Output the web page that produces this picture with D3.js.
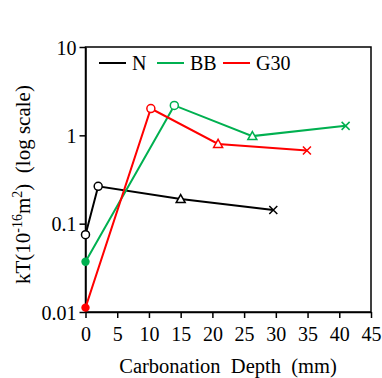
<!DOCTYPE html>
<html><head><meta charset="utf-8">
<script src="https://cdn.jsdelivr.net/npm/d3@7"></script>
<style>body{margin:0;background:#fff}svg{display:block}</style>
</head><body>
<script>
const seriesNames = ["N", "BB", "G30"];
const seriesColors = ["#000000", "#00b050", "#ff0000"];
const nX = [0, 2, 15, 29.6];
const nY = [0.075, 0.265, 0.19, 0.143];
const bbX = [0, 14, 26.3, 41];
const bbY = [0.037, 2.18, 0.98, 1.28];
const g30X = [0, 10.3, 20.9, 34.9];
const g30Y = [0.0112, 2.01, 0.80, 0.675];
const markerTypes = [["circle","circle","triangle","cross"],["circleFilled","circle","triangle","cross"],["circleFilled","circle","triangle","cross"]];
const xTicks = [0,5,10,15,20,25,30,35,40,45];
const yTicks = [0.01,0.1,1,10];
const yTickLabels = ["0.01","0.1","1","10"];

const FONT='Liberation Serif';
const W=382,H=378;
const m={l:85.5,r:371,t:47,b:312};
const svg=d3.select("body").append("svg").attr("width",W).attr("height",H);
const x=d3.scaleLinear().domain([0,45]).range([m.l,m.r]);
const y=d3.scaleLog().domain([0.01,10]).range([m.b,m.t]);

svg.append("rect").attr("x",m.l).attr("y",m.t).attr("width",m.r-m.l).attr("height",m.b-m.t)
  .attr("fill","none").attr("stroke","#000").attr("stroke-width",1.5);

const xAxis=svg.append("g").attr("transform",`translate(0,${m.b})`)
  .call(d3.axisBottom(x).tickValues(xTicks).tickSize(6).tickSizeOuter(0).tickFormat(d3.format("d")));
const yAxis=svg.append("g").attr("transform",`translate(${m.l},0)`)
  .call(d3.axisLeft(y).tickValues(yTicks).tickSize(6).tickSizeOuter(0).tickFormat((d,i)=>yTickLabels[i]));
[xAxis,yAxis].forEach(a=>{
  a.attr("font-family",FONT).attr("font-size",20);
  a.select(".domain").attr("stroke-width",1.5);
  a.selectAll(".tick line").attr("stroke-width",1.5);
  a.selectAll("text").attr("fill","#000");
});
xAxis.selectAll("text").attr("y",0).attr("dy",null).attr("transform","translate(0,29)");
yAxis.selectAll("text").attr("x",-9).attr("dy","0.35em");

svg.append("text").attr("x",228).attr("y",373).attr("text-anchor","middle")
  .attr("font-family",FONT).attr("font-size",20.5).style("white-space","pre").text("Carbonation  Depth  (mm)");
const yt=svg.append("text").attr("transform",`translate(30,284) rotate(-90)`)
  .attr("font-family",FONT).attr("text-anchor","start").attr("font-size",21).style("white-space","pre");
yt.append("tspan").text("kT(10");
yt.append("tspan").attr("font-size",14).attr("dy",-8).text("-16");
yt.append("tspan").attr("dy",8).text("m");
yt.append("tspan").attr("font-size",14).attr("dy",-8).text("2");
yt.append("tspan").attr("dy",8).text(")  (log scale)");

const series=[[nX,nY],[bbX,bbY],[g30X,g30Y]];
const line=d3.line().x(d=>x(d[0])).y(d=>y(d[1]));
series.forEach((s,i)=>{
  const pts=s[0].map((v,j)=>[v,s[1][j]]);
  const c=seriesColors[i];
  svg.append("path").datum(pts).attr("d",line).attr("fill","none").attr("stroke",c).attr("stroke-width",2);
  pts.forEach((p,j)=>{
    const t=markerTypes[i][j], px=x(p[0]), py=y(p[1]);
    if(t==="circleFilled"){
      svg.append("circle").attr("cx",px).attr("cy",py).attr("r",4.2).attr("fill",c);
    } else if(t==="circle"){
      svg.append("circle").attr("cx",px).attr("cy",py).attr("r",4).attr("fill","#fff").attr("stroke",c).attr("stroke-width",1.5);
    } else if(t==="triangle"){
      svg.append("path").attr("transform",`translate(${px},${py})`)
        .attr("d","M0,-4.5L4.5,3.5L-4.5,3.5Z").attr("fill","#fff").attr("stroke",c).attr("stroke-width",1.5);
    } else {
      svg.append("path").attr("transform",`translate(${px},${py})`)
        .attr("d","M-4,-4L4,4M-4,4L4,-4").attr("stroke",c).attr("stroke-width",1.5);
    }
  });
});
const legX=[99,157,223];
seriesNames.forEach((n,i)=>{
  svg.append("line").attr("x1",legX[i]).attr("x2",legX[i]+27).attr("y1",63).attr("y2",63)
    .attr("stroke",seriesColors[i]).attr("stroke-width",2);
  svg.append("text").attr("x",legX[i]+33).attr("y",70).attr("font-family",FONT).attr("font-size",20).text(n);
});
</script>
</body></html>
